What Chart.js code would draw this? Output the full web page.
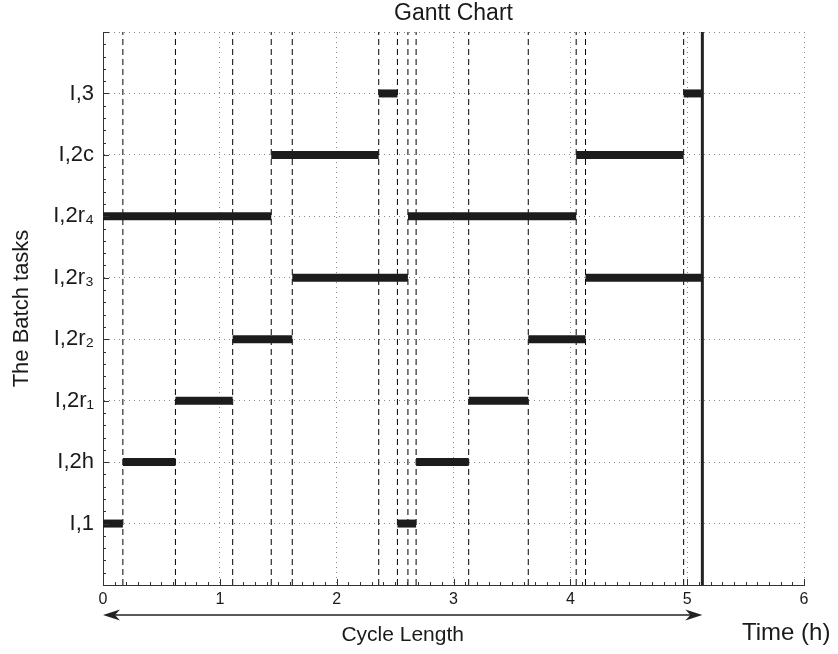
<!DOCTYPE html>
<html>
<head>
<meta charset="utf-8">
<script src="https://cdn.jsdelivr.net/npm/chart.js@4.4.0/dist/chart.umd.min.js"></script>
<style>
  html, body { margin: 0; padding: 0; background: #fff; }
  #wrap { width: 838px; height: 654px; }
</style>
</head>
<body>
<div id="wrap"><canvas id="gantt" width="838" height="654"></canvas></div>
<script>
// tasks, bottom to top
const taskLabels = ['I,1', 'I,2h', 'I,2r₁', 'I,2r₂', 'I,2r₃', 'I,2r₄', 'I,2c', 'I,3'];
// two runs of every task within the cycle (hours)
const taskStarts = [[0, 2.52], [0.17, 2.68], [0.62, 3.13], [1.11, 3.64], [1.62, 4.13], [0, 2.61], [1.44, 4.05], [2.36, 4.97]];
const taskEnds   = [[0.17, 2.68], [0.62, 3.13], [1.11, 3.64], [1.62, 4.13], [2.61, 5.13], [1.44, 4.05], [2.36, 4.97], [2.52, 5.13]];
// dashed event lines
const eventTimes = [0.17, 0.62, 1.11, 1.44, 1.62, 2.36, 2.52, 2.61, 2.68, 3.13, 3.64, 4.05, 4.13, 4.97];
const cycleLength = 5.13;
const xMin = 0, xMax = 6;
const yMin = 0, yMax = 9;

const FONT = "'Liberation Sans', Arial, Helvetica, sans-serif";
const INK = '#1c1c1c';

const datasets = [];

// bars
taskLabels.forEach((name, i) => {
  taskStarts[i].forEach((s, j) => {
    datasets.push({
      label: name,
      data: [{ x: s, y: i + 1 }, { x: taskEnds[i][j], y: i + 1 }],
      showLine: true,
      borderColor: INK,
      borderWidth: 8,
      borderCapStyle: 'butt',
      pointRadius: 0,
      order: 0
    });
  });
});

// dashed event lines
eventTimes.forEach(t => {
  datasets.push({
    label: 'event',
    data: [{ x: t, y: yMin }, { x: t, y: yMax }],
    showLine: true,
    borderColor: '#000',
    borderWidth: 1,
    borderDash: [6, 4],
    pointRadius: 0,
    order: 2
  });
});

// end of cycle
datasets.push({
  label: 'cycle',
  data: [{ x: cycleLength, y: yMin }, { x: cycleLength, y: yMax }],
  showLine: true,
  borderColor: '#222',
  borderWidth: 3,
  pointRadius: 0,
  order: 1
});

// inward major/minor ticks, cycle arrow and extra labels
const decor = {
  id: 'decor',
  afterDraw(chart) {
    const ctx = chart.ctx;
    const xs = chart.scales.x, ys = chart.scales.y;
    const area = chart.chartArea;
    ctx.save();
    ctx.strokeStyle = '#333';
    ctx.lineWidth = 1;
    ctx.beginPath();
    for (let v = xMin; v <= xMax + 1e-9; v += 0.1) {
      const px = Math.round(xs.getPixelForValue(v)) + 0.5;
      const major = Math.abs(v - Math.round(v)) < 1e-6;
      ctx.moveTo(px, area.bottom);
      ctx.lineTo(px, area.bottom - (major ? 6 : 3));
    }
    for (let v = yMin; v <= yMax + 1e-9; v += 0.2) {
      const py = Math.round(ys.getPixelForValue(v)) + 0.5;
      const major = Math.abs(v - Math.round(v)) < 1e-6;
      ctx.moveTo(area.left, py);
      ctx.lineTo(area.left + (major ? 6 : 3), py);
    }
    ctx.stroke();

    // double arrow for the cycle length
    const x0 = xs.getPixelForValue(xMin);
    const x1 = xs.getPixelForValue(cycleLength);
    const ay = 615;
    ctx.strokeStyle = '#222';
    ctx.fillStyle = '#222';
    ctx.lineWidth = 1.5;
    ctx.beginPath();
    ctx.moveTo(x0 + 10, ay);
    ctx.lineTo(x1 - 10, ay);
    ctx.stroke();
    ctx.beginPath();
    ctx.moveTo(x0, ay); ctx.lineTo(x0 + 17, ay - 5.5); ctx.lineTo(x0 + 12, ay); ctx.lineTo(x0 + 17, ay + 5.5); ctx.closePath();
    ctx.moveTo(x1, ay); ctx.lineTo(x1 - 17, ay - 5.5); ctx.lineTo(x1 - 12, ay); ctx.lineTo(x1 - 17, ay + 5.5); ctx.closePath();
    ctx.fill();

    ctx.fillStyle = '#1a1a1a';
    ctx.textBaseline = 'alphabetic';
    ctx.textAlign = 'center';
    ctx.font = '21px ' + FONT;
    ctx.fillText('Cycle Length', (x0 + x1) / 2, 641);
    ctx.textAlign = 'left';
    ctx.font = '24px ' + FONT;
    ctx.fillText('Time (h)', 742, 640);
    ctx.restore();
  }
};

new Chart(document.getElementById('gantt'), {
  type: 'scatter',
  data: { datasets },
  options: {
    responsive: false,
    animation: false,
    layout: { padding: { top: 0, right: 34, bottom: 0, left: 0 } },
    plugins: {
      legend: { display: false },
      tooltip: { enabled: false },
      title: {
        display: true,
        text: 'Gantt Chart',
        fullSize: false,
        color: '#1a1a1a',
        font: { family: FONT, size: 23, weight: 'normal', lineHeight: 1.2 },
        padding: { top: 0, bottom: 4.4 }
      }
    },
    scales: {
      x: {
        type: 'linear',
        min: xMin,
        max: xMax,
        afterFit: s => { s.height = 69; },
        ticks: {
          stepSize: 1,
          color: '#1a1a1a',
          padding: 5,
          font: { family: FONT, size: 16 }
        },
        grid: { color: '#888', lineWidth: 1, drawTicks: false },
        border: { display: true, color: '#333', width: 1, dash: [1, 4] }
      },
      y: {
        type: 'linear',
        min: yMin,
        max: yMax,
        afterFit: s => { s.width = 103; },
        ticks: {
          stepSize: 1,
          color: '#1a1a1a',
          padding: 9,
          font: { family: FONT, size: 22 },
          callback: v => taskLabels[v - 1] || ''
        },
        grid: { color: '#888', lineWidth: 1, drawTicks: false },
        border: { display: true, color: '#333', width: 1, dash: [1, 4] },
        title: {
          display: true,
          text: 'The Batch tasks',
          color: '#1a1a1a',
          font: { family: FONT, size: 22, lineHeight: 1.2 },
          padding: { top: 9, bottom: 0 }
        }
      }
    }
  },
  plugins: [decor]
});
</script>
</body>
</html>
